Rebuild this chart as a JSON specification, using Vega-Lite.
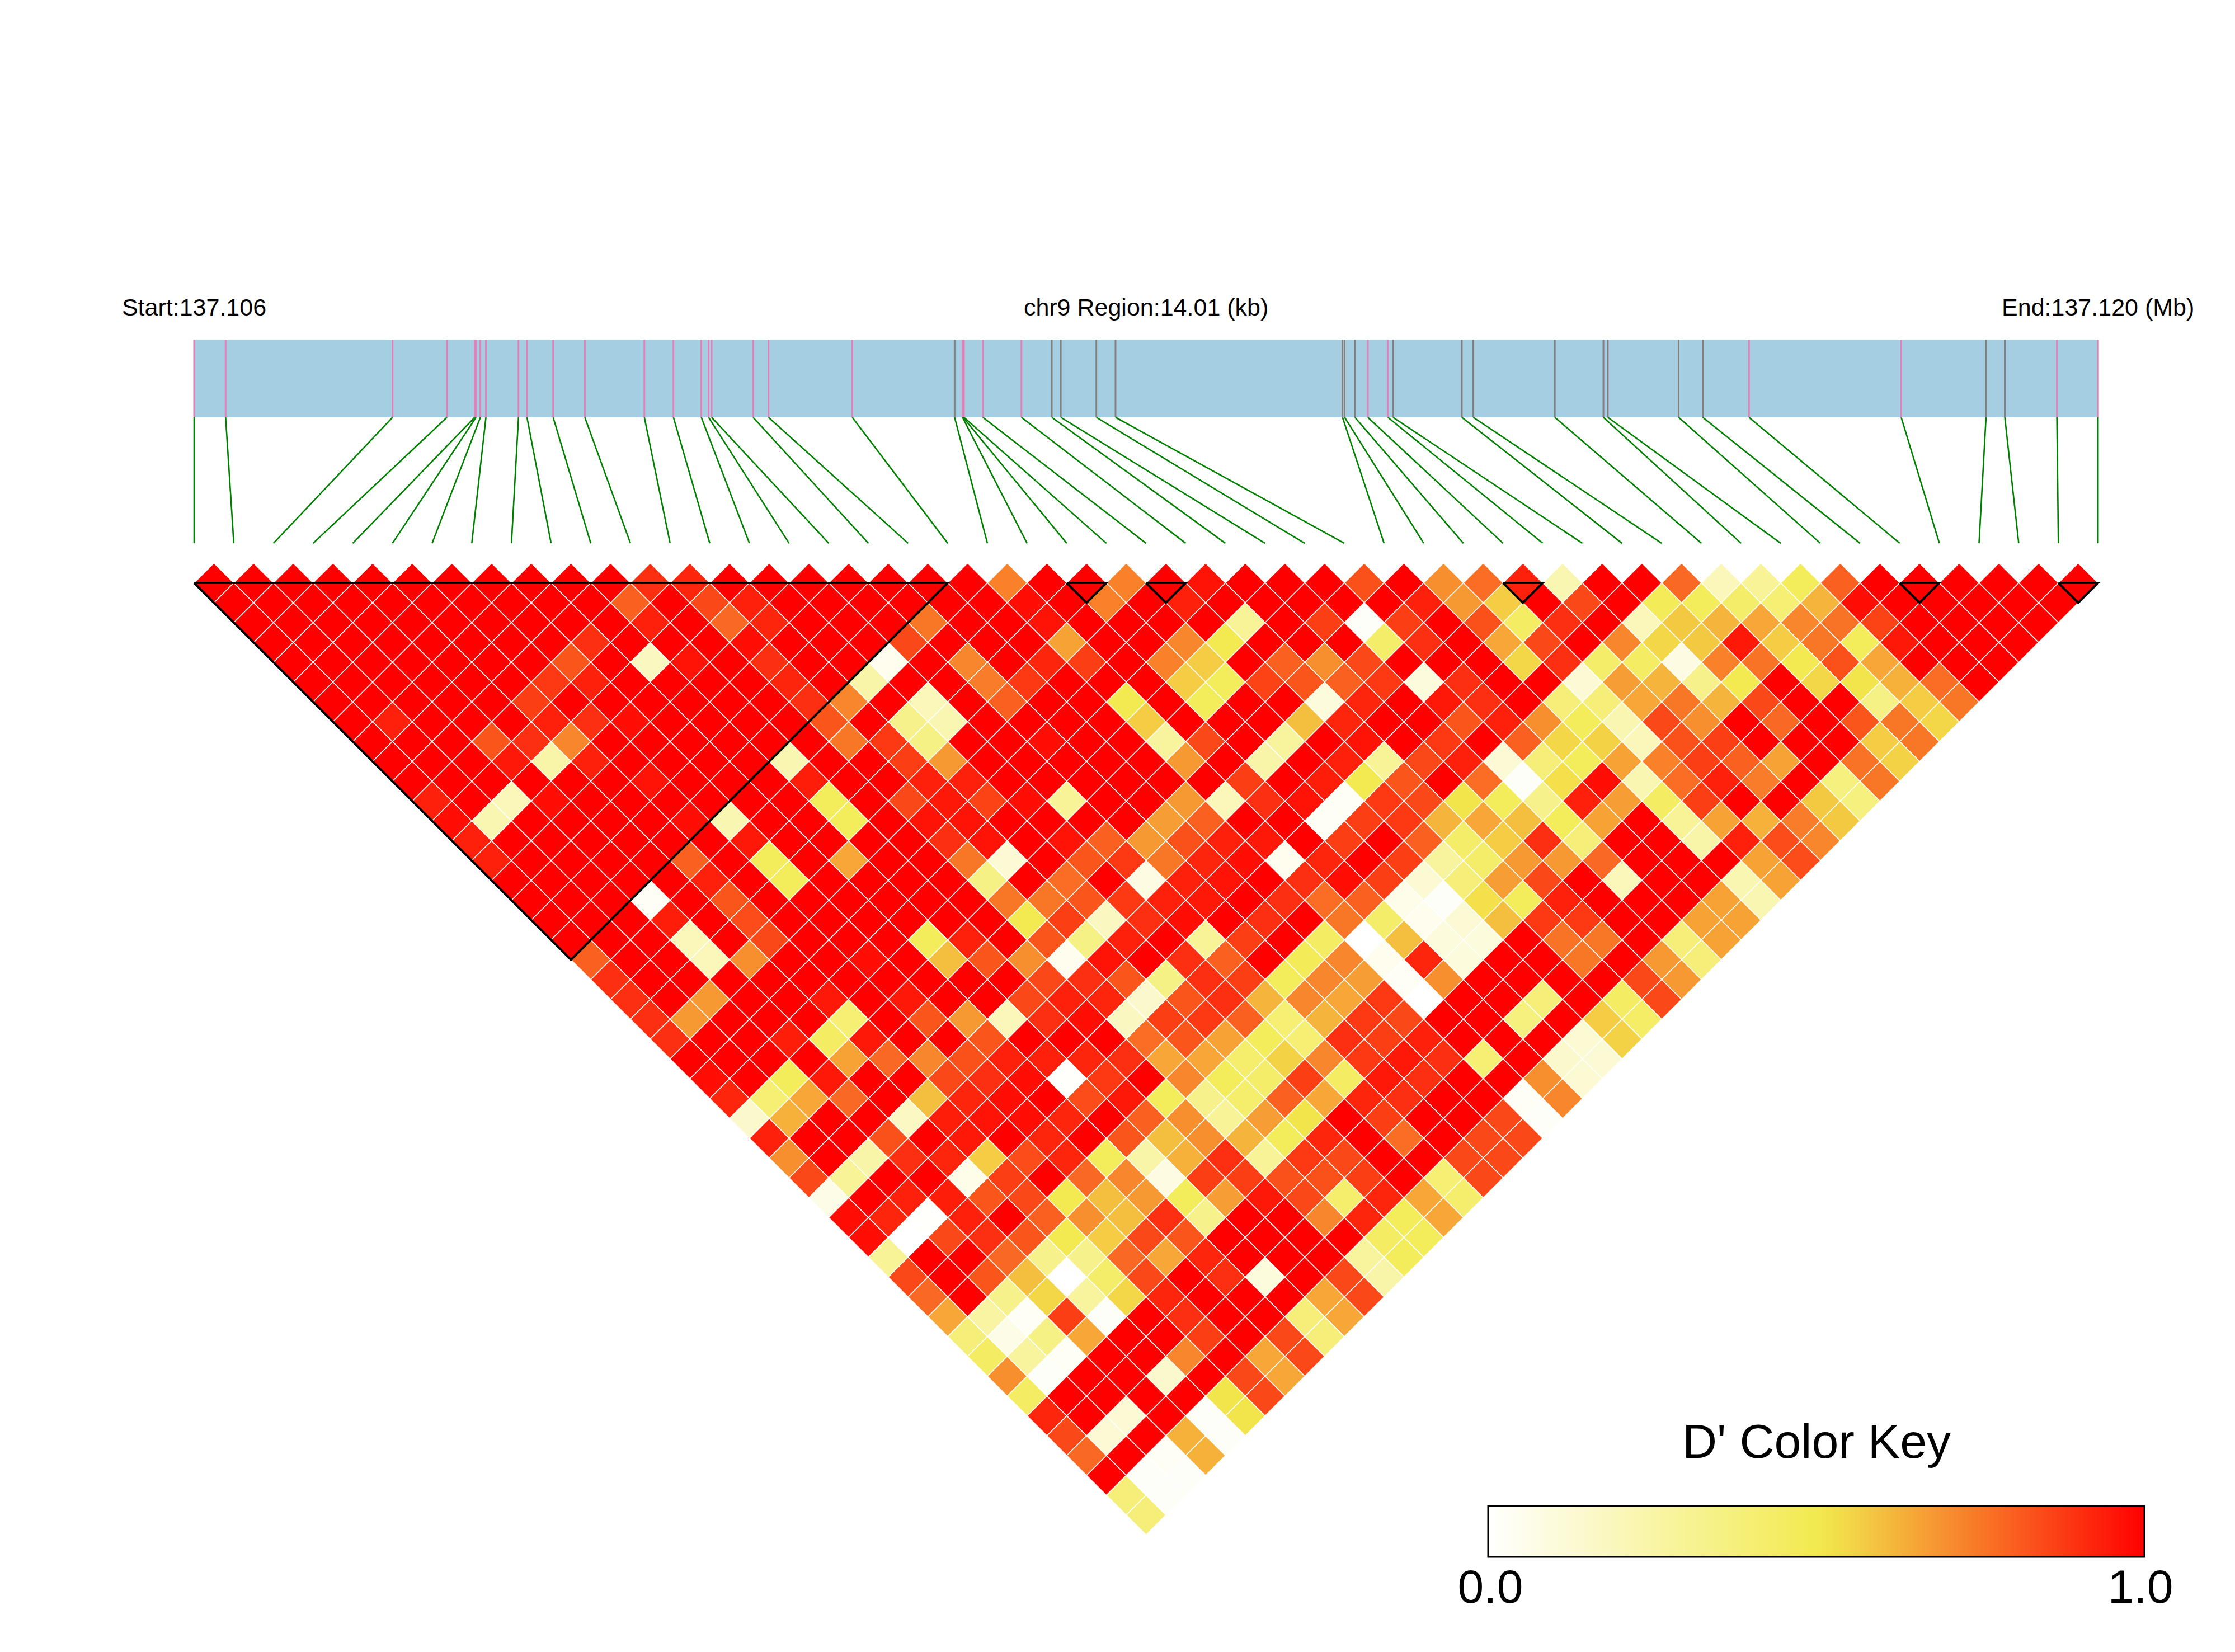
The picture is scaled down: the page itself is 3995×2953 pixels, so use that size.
{"$schema":"https://vega.github.io/schema/vega-lite/v6.json","width":3995,"height":2953,"autosize":{"type":"fit","contains":"padding"},"padding":0,"background":"white","config":{"view":{"stroke":null},"font":"Liberation Sans"},
"datasets":{"cells":[
{"m":0.5,"d":1,"v":1},{"m":1.5,"d":1,"v":1},{"m":2.5,"d":1,"v":1},{"m":3.5,"d":1,"v":1},{"m":4.5,"d":1,"v":1},{"m":5.5,"d":1,"v":1},{"m":6.5,"d":1,"v":1},{"m":7.5,"d":1,"v":1},{"m":8.5,"d":1,"v":1},{"m":9.5,"d":1,"v":1},{"m":10.5,"d":1,"v":1},{"m":11.5,"d":1,"v":0.9},{"m":12.5,"d":1,"v":0.92},{"m":13.5,"d":1,"v":1},{"m":14.5,"d":1,"v":1},{"m":15.5,"d":1,"v":1},{"m":16.5,"d":1,"v":1},{"m":17.5,"d":1,"v":1},{"m":18.5,"d":1,"v":1},{"m":19.5,"d":1,"v":1},{"m":20.5,"d":1,"v":0.73},{"m":21.5,"d":1,"v":1},{"m":22.5,"d":1,"v":1},{"m":23.5,"d":1,"v":0.73},{"m":24.5,"d":1,"v":1},{"m":25.5,"d":1,"v":0.96},{"m":26.5,"d":1,"v":1},{"m":27.5,"d":1,"v":1},{"m":28.5,"d":1,"v":1},{"m":29.5,"d":1,"v":0.83},{"m":30.5,"d":1,"v":1},{"m":31.5,"d":1,"v":0.7},{"m":32.5,"d":1,"v":0.77},{"m":33.5,"d":1,"v":0.93},{"m":34.5,"d":1,"v":0.22},{"m":35.5,"d":1,"v":1},{"m":36.5,"d":1,"v":1},{"m":37.5,"d":1,"v":0.78},{"m":38.5,"d":1,"v":0.2},{"m":39.5,"d":1,"v":0.3},{"m":40.5,"d":1,"v":0.47},{"m":41.5,"d":1,"v":0.8},{"m":42.5,"d":1,"v":1},{"m":43.5,"d":1,"v":1},{"m":44.5,"d":1,"v":1},{"m":45.5,"d":1,"v":1},{"m":46.5,"d":1,"v":1},{"m":47.5,"d":1,"v":1},
{"m":1,"d":2,"v":1},{"m":2,"d":2,"v":1},{"m":3,"d":2,"v":1},{"m":4,"d":2,"v":1},{"m":5,"d":2,"v":1},{"m":6,"d":2,"v":1},{"m":7,"d":2,"v":1},{"m":8,"d":2,"v":1},{"m":9,"d":2,"v":1},{"m":10,"d":2,"v":1},{"m":11,"d":2,"v":0.8},{"m":12,"d":2,"v":1},{"m":13,"d":2,"v":0.85},{"m":14,"d":2,"v":0.93},{"m":15,"d":2,"v":1},{"m":16,"d":2,"v":1},{"m":17,"d":2,"v":1},{"m":18,"d":2,"v":1},{"m":19,"d":2,"v":1},{"m":20,"d":2,"v":1},{"m":21,"d":2,"v":0.97},{"m":22,"d":2,"v":1},{"m":23,"d":2,"v":0.73},{"m":24,"d":2,"v":1},{"m":25,"d":2,"v":0.93},{"m":26,"d":2,"v":1},{"m":27,"d":2,"v":1},{"m":28,"d":2,"v":1},{"m":29,"d":2,"v":1},{"m":30,"d":2,"v":1},{"m":31,"d":2,"v":0.93},{"m":32,"d":2,"v":0.68},{"m":33,"d":2,"v":0.57},{"m":34,"d":2,"v":1},{"m":35,"d":2,"v":0.85},{"m":36,"d":2,"v":1},{"m":37,"d":2,"v":0.48},{"m":38,"d":2,"v":0.47},{"m":39,"d":2,"v":0.43},{"m":40,"d":2,"v":0.4},{"m":41,"d":2,"v":0.62},{"m":42,"d":2,"v":0.97},{"m":43,"d":2,"v":1},{"m":44,"d":2,"v":1},{"m":45,"d":2,"v":1},{"m":46,"d":2,"v":1},{"m":47,"d":2,"v":1},
{"m":1.5,"d":3,"v":1},{"m":2.5,"d":3,"v":1},{"m":3.5,"d":3,"v":1},{"m":4.5,"d":3,"v":1},{"m":5.5,"d":3,"v":1},{"m":6.5,"d":3,"v":1},{"m":7.5,"d":3,"v":1},{"m":8.5,"d":3,"v":1},{"m":9.5,"d":3,"v":1},{"m":10.5,"d":3,"v":1},{"m":11.5,"d":3,"v":0.93},{"m":12.5,"d":3,"v":1},{"m":13.5,"d":3,"v":0.78},{"m":14.5,"d":3,"v":0.92},{"m":15.5,"d":3,"v":1},{"m":16.5,"d":3,"v":1},{"m":17.5,"d":3,"v":1},{"m":18.5,"d":3,"v":0.75},{"m":19.5,"d":3,"v":1},{"m":20.5,"d":3,"v":1},{"m":21.5,"d":3,"v":0.96},{"m":22.5,"d":3,"v":1},{"m":23.5,"d":3,"v":1},{"m":24.5,"d":3,"v":1},{"m":25.5,"d":3,"v":1},{"m":26.5,"d":3,"v":0.3},{"m":27.5,"d":3,"v":1},{"m":28.5,"d":3,"v":0.87},{"m":29.5,"d":3,"v":0.02},{"m":30.5,"d":3,"v":0.87},{"m":31.5,"d":3,"v":1},{"m":32.5,"d":3,"v":0.83},{"m":33.5,"d":3,"v":0.45},{"m":34.5,"d":3,"v":0.9},{"m":35.5,"d":3,"v":1},{"m":36.5,"d":3,"v":0.2},{"m":37.5,"d":3,"v":0.58},{"m":38.5,"d":3,"v":0.62},{"m":39.5,"d":3,"v":0.65},{"m":40.5,"d":3,"v":0.72},{"m":41.5,"d":3,"v":0.76},{"m":42.5,"d":3,"v":0.86},{"m":43.5,"d":3,"v":1},{"m":44.5,"d":3,"v":1},{"m":45.5,"d":3,"v":1},{"m":46.5,"d":3,"v":1},
{"m":2,"d":4,"v":1},{"m":3,"d":4,"v":1},{"m":4,"d":4,"v":1},{"m":5,"d":4,"v":1},{"m":6,"d":4,"v":1},{"m":7,"d":4,"v":1},{"m":8,"d":4,"v":1},{"m":9,"d":4,"v":1},{"m":10,"d":4,"v":0.9},{"m":11,"d":4,"v":1},{"m":12,"d":4,"v":1},{"m":13,"d":4,"v":1},{"m":14,"d":4,"v":0.97},{"m":15,"d":4,"v":1},{"m":16,"d":4,"v":1},{"m":17,"d":4,"v":1},{"m":18,"d":4,"v":0.85},{"m":19,"d":4,"v":1},{"m":20,"d":4,"v":1},{"m":21,"d":4,"v":1},{"m":22,"d":4,"v":0.66},{"m":23,"d":4,"v":1},{"m":24,"d":4,"v":1},{"m":25,"d":4,"v":0.72},{"m":26,"d":4,"v":0.5},{"m":27,"d":4,"v":1},{"m":28,"d":4,"v":1},{"m":29,"d":4,"v":1},{"m":30,"d":4,"v":0.43},{"m":31,"d":4,"v":0.9},{"m":32,"d":4,"v":1},{"m":33,"d":4,"v":0.65},{"m":34,"d":4,"v":0.85},{"m":35,"d":4,"v":1},{"m":36,"d":4,"v":0.72},{"m":37,"d":4,"v":0.55},{"m":38,"d":4,"v":0.58},{"m":39,"d":4,"v":0.95},{"m":40,"d":4,"v":0.57},{"m":41,"d":4,"v":0.75},{"m":42,"d":4,"v":0.47},{"m":43,"d":4,"v":0.95},{"m":44,"d":4,"v":1},{"m":45,"d":4,"v":1},{"m":46,"d":4,"v":1},
{"m":2.5,"d":5,"v":1},{"m":3.5,"d":5,"v":1},{"m":4.5,"d":5,"v":1},{"m":5.5,"d":5,"v":1},{"m":6.5,"d":5,"v":1},{"m":7.5,"d":5,"v":1},{"m":8.5,"d":5,"v":1},{"m":9.5,"d":5,"v":0.82},{"m":10.5,"d":5,"v":1},{"m":11.5,"d":5,"v":0.18},{"m":12.5,"d":5,"v":0.96},{"m":13.5,"d":5,"v":1},{"m":14.5,"d":5,"v":0.9},{"m":15.5,"d":5,"v":1},{"m":16.5,"d":5,"v":1},{"m":17.5,"d":5,"v":0.05},{"m":18.5,"d":5,"v":1},{"m":19.5,"d":5,"v":0.72},{"m":20.5,"d":5,"v":1},{"m":21.5,"d":5,"v":0.92},{"m":22.5,"d":5,"v":0.87},{"m":23.5,"d":5,"v":1},{"m":24.5,"d":5,"v":0.73},{"m":25.5,"d":5,"v":0.57},{"m":26.5,"d":5,"v":1},{"m":27.5,"d":5,"v":0.8},{"m":28.5,"d":5,"v":0.7},{"m":29.5,"d":5,"v":0.85},{"m":30.5,"d":5,"v":1},{"m":31.5,"d":5,"v":1},{"m":32.5,"d":5,"v":1},{"m":33.5,"d":5,"v":0.55},{"m":34.5,"d":5,"v":0.9},{"m":35.5,"d":5,"v":0.43},{"m":36.5,"d":5,"v":0.45},{"m":37.5,"d":5,"v":0.08},{"m":38.5,"d":5,"v":0.73},{"m":39.5,"d":5,"v":0.76},{"m":40.5,"d":5,"v":0.5},{"m":41.5,"d":5,"v":0.83},{"m":42.5,"d":5,"v":0.65},{"m":43.5,"d":5,"v":1},{"m":44.5,"d":5,"v":1},{"m":45.5,"d":5,"v":1},
{"m":3,"d":6,"v":1},{"m":4,"d":6,"v":1},{"m":5,"d":6,"v":1},{"m":6,"d":6,"v":1},{"m":7,"d":6,"v":1},{"m":8,"d":6,"v":1},{"m":9,"d":6,"v":0.88},{"m":10,"d":6,"v":0.93},{"m":11,"d":6,"v":1},{"m":12,"d":6,"v":1},{"m":13,"d":6,"v":1},{"m":14,"d":6,"v":1},{"m":15,"d":6,"v":0.92},{"m":16,"d":6,"v":1},{"m":17,"d":6,"v":0.25},{"m":18,"d":6,"v":1},{"m":19,"d":6,"v":1},{"m":20,"d":6,"v":0.74},{"m":21,"d":6,"v":0.88},{"m":22,"d":6,"v":1},{"m":23,"d":6,"v":1},{"m":24,"d":6,"v":1},{"m":25,"d":6,"v":0.57},{"m":26,"d":6,"v":0.47},{"m":27,"d":6,"v":0.86},{"m":28,"d":6,"v":0.82},{"m":29,"d":6,"v":0.8},{"m":30,"d":6,"v":0.88},{"m":31,"d":6,"v":0.1},{"m":32,"d":6,"v":0.9},{"m":33,"d":6,"v":1},{"m":34,"d":6,"v":1},{"m":35,"d":6,"v":0.12},{"m":36,"d":6,"v":0.67},{"m":37,"d":6,"v":0.62},{"m":38,"d":6,"v":0.33},{"m":39,"d":6,"v":0.5},{"m":40,"d":6,"v":1},{"m":41,"d":6,"v":0.55},{"m":42,"d":6,"v":0.52},{"m":43,"d":6,"v":0.63},{"m":44,"d":6,"v":0.77},{"m":45,"d":6,"v":1},
{"m":3.5,"d":7,"v":1},{"m":4.5,"d":7,"v":1},{"m":5.5,"d":7,"v":1},{"m":6.5,"d":7,"v":1},{"m":7.5,"d":7,"v":1},{"m":8.5,"d":7,"v":0.87},{"m":9.5,"d":7,"v":1},{"m":10.5,"d":7,"v":1},{"m":11.5,"d":7,"v":1},{"m":12.5,"d":7,"v":1},{"m":13.5,"d":7,"v":1},{"m":14.5,"d":7,"v":1},{"m":15.5,"d":7,"v":0.9},{"m":16.5,"d":7,"v":0.72},{"m":17.5,"d":7,"v":1},{"m":18.5,"d":7,"v":0.2},{"m":19.5,"d":7,"v":1},{"m":20.5,"d":7,"v":0.8},{"m":21.5,"d":7,"v":1},{"m":22.5,"d":7,"v":1},{"m":23.5,"d":7,"v":0.5},{"m":24.5,"d":7,"v":1},{"m":25.5,"d":7,"v":0.47},{"m":26.5,"d":7,"v":1},{"m":27.5,"d":7,"v":1},{"m":28.5,"d":7,"v":0.1},{"m":29.5,"d":7,"v":0.92},{"m":30.5,"d":7,"v":1},{"m":31.5,"d":7,"v":0.95},{"m":32.5,"d":7,"v":0.9},{"m":33.5,"d":7,"v":1},{"m":34.5,"d":7,"v":0.38},{"m":35.5,"d":7,"v":0.38},{"m":36.5,"d":7,"v":0.65},{"m":37.5,"d":7,"v":0.75},{"m":38.5,"d":7,"v":0.62},{"m":39.5,"d":7,"v":0.85},{"m":40.5,"d":7,"v":1},{"m":41.5,"d":7,"v":1},{"m":42.5,"d":7,"v":0.35},{"m":43.5,"d":7,"v":0.57},{"m":44.5,"d":7,"v":0.75},
{"m":4,"d":8,"v":1},{"m":5,"d":8,"v":0.93},{"m":6,"d":8,"v":1},{"m":7,"d":8,"v":1},{"m":8,"d":8,"v":1},{"m":9,"d":8,"v":0.93},{"m":10,"d":8,"v":0.9},{"m":11,"d":8,"v":0.97},{"m":12,"d":8,"v":1},{"m":13,"d":8,"v":1},{"m":14,"d":8,"v":1},{"m":15,"d":8,"v":1},{"m":16,"d":8,"v":0.82},{"m":17,"d":8,"v":1},{"m":18,"d":8,"v":0.33},{"m":19,"d":8,"v":0.22},{"m":20,"d":8,"v":1},{"m":21,"d":8,"v":1},{"m":22,"d":8,"v":1},{"m":23,"d":8,"v":1},{"m":24,"d":8,"v":0.57},{"m":25,"d":8,"v":1},{"m":26,"d":8,"v":1},{"m":27,"d":8,"v":1},{"m":28,"d":8,"v":0.6},{"m":29,"d":8,"v":0.92},{"m":30,"d":8,"v":1},{"m":31,"d":8,"v":1},{"m":32,"d":8,"v":0.82},{"m":33,"d":8,"v":0.93},{"m":34,"d":8,"v":0.7},{"m":35,"d":8,"v":0.47},{"m":36,"d":8,"v":0.22},{"m":37,"d":8,"v":0.85},{"m":38,"d":8,"v":0.7},{"m":39,"d":8,"v":1},{"m":40,"d":8,"v":0.78},{"m":41,"d":8,"v":1},{"m":42,"d":8,"v":0.82},{"m":43,"d":8,"v":0.75},{"m":44,"d":8,"v":0.55},
{"m":4.5,"d":9,"v":1},{"m":5.5,"d":9,"v":1},{"m":6.5,"d":9,"v":1},{"m":7.5,"d":9,"v":0.82},{"m":8.5,"d":9,"v":0.9},{"m":9.5,"d":9,"v":0.72},{"m":10.5,"d":9,"v":1},{"m":11.5,"d":9,"v":1},{"m":12.5,"d":9,"v":1},{"m":13.5,"d":9,"v":1},{"m":14.5,"d":9,"v":1},{"m":15.5,"d":9,"v":1},{"m":16.5,"d":9,"v":0.75},{"m":17.5,"d":9,"v":0.88},{"m":18.5,"d":9,"v":0.35},{"m":19.5,"d":9,"v":1},{"m":20.5,"d":9,"v":1},{"m":21.5,"d":9,"v":0.97},{"m":22.5,"d":9,"v":1},{"m":23.5,"d":9,"v":1},{"m":24.5,"d":9,"v":0.28},{"m":25.5,"d":9,"v":0.85},{"m":26.5,"d":9,"v":1},{"m":27.5,"d":9,"v":0.28},{"m":28.5,"d":9,"v":1},{"m":29.5,"d":9,"v":0.96},{"m":30.5,"d":9,"v":1},{"m":31.5,"d":9,"v":0.88},{"m":32.5,"d":9,"v":1},{"m":33.5,"d":9,"v":0.8},{"m":34.5,"d":9,"v":0.55},{"m":35.5,"d":9,"v":0.56},{"m":36.5,"d":9,"v":0.2},{"m":37.5,"d":9,"v":0.83},{"m":38.5,"d":9,"v":0.87},{"m":39.5,"d":9,"v":1},{"m":40.5,"d":9,"v":1},{"m":41.5,"d":9,"v":1},{"m":42.5,"d":9,"v":0.57},{"m":43.5,"d":9,"v":0.75},
{"m":5,"d":10,"v":1},{"m":6,"d":10,"v":1},{"m":7,"d":10,"v":1},{"m":8,"d":10,"v":0.95},{"m":9,"d":10,"v":0.25},{"m":10,"d":10,"v":0.93},{"m":11,"d":10,"v":1},{"m":12,"d":10,"v":1},{"m":13,"d":10,"v":1},{"m":14,"d":10,"v":1},{"m":15,"d":10,"v":0.22},{"m":16,"d":10,"v":1},{"m":17,"d":10,"v":1},{"m":18,"d":10,"v":0.87},{"m":19,"d":10,"v":0.68},{"m":20,"d":10,"v":1},{"m":21,"d":10,"v":1},{"m":22,"d":10,"v":1},{"m":23,"d":10,"v":1},{"m":24,"d":10,"v":1},{"m":25,"d":10,"v":0.68},{"m":26,"d":10,"v":1},{"m":27,"d":10,"v":0.25},{"m":28,"d":10,"v":1},{"m":29,"d":10,"v":0.93},{"m":30,"d":10,"v":0.3},{"m":31,"d":10,"v":0.85},{"m":32,"d":10,"v":0.93},{"m":33,"d":10,"v":0.12},{"m":34,"d":10,"v":0.38},{"m":35,"d":10,"v":0.47},{"m":36,"d":10,"v":0.66},{"m":37,"d":10,"v":0.73},{"m":38,"d":10,"v":0.87},{"m":39,"d":10,"v":0.8},{"m":40,"d":10,"v":0.66},{"m":41,"d":10,"v":1},{"m":42,"d":10,"v":0.76},{"m":43,"d":10,"v":0.56},
{"m":5.5,"d":11,"v":1},{"m":6.5,"d":11,"v":1},{"m":7.5,"d":11,"v":1},{"m":8.5,"d":11,"v":1},{"m":9.5,"d":11,"v":1},{"m":10.5,"d":11,"v":1},{"m":11.5,"d":11,"v":0.96},{"m":12.5,"d":11,"v":1},{"m":13.5,"d":11,"v":1},{"m":14.5,"d":11,"v":1},{"m":15.5,"d":11,"v":0.94},{"m":16.5,"d":11,"v":1},{"m":17.5,"d":11,"v":1},{"m":18.5,"d":11,"v":0.93},{"m":19.5,"d":11,"v":0.93},{"m":20.5,"d":11,"v":1},{"m":21.5,"d":11,"v":1},{"m":22.5,"d":11,"v":1},{"m":23.5,"d":11,"v":1},{"m":24.5,"d":11,"v":1},{"m":25.5,"d":11,"v":1},{"m":26.5,"d":11,"v":0.87},{"m":27.5,"d":11,"v":1},{"m":28.5,"d":11,"v":0.94},{"m":29.5,"d":11,"v":0.5},{"m":30.5,"d":11,"v":0.82},{"m":31.5,"d":11,"v":1},{"m":32.5,"d":11,"v":0.77},{"m":33.5,"d":11,"v":0.02},{"m":34.5,"d":11,"v":0.53},{"m":35.5,"d":11,"v":0.97},{"m":36.5,"d":11,"v":0.22},{"m":37.5,"d":11,"v":0.77},{"m":38.5,"d":11,"v":0.93},{"m":39.5,"d":11,"v":0.74},{"m":40.5,"d":11,"v":1},{"m":41.5,"d":11,"v":0.37},{"m":42.5,"d":11,"v":0.75},
{"m":6,"d":12,"v":0.93},{"m":7,"d":12,"v":1},{"m":8,"d":12,"v":0.2},{"m":9,"d":12,"v":0.97},{"m":10,"d":12,"v":1},{"m":11,"d":12,"v":1},{"m":12,"d":12,"v":1},{"m":13,"d":12,"v":1},{"m":14,"d":12,"v":1},{"m":15,"d":12,"v":1},{"m":16,"d":12,"v":0.47},{"m":17,"d":12,"v":1},{"m":18,"d":12,"v":0.85},{"m":19,"d":12,"v":0.95},{"m":20,"d":12,"v":0.86},{"m":21,"d":12,"v":0.97},{"m":22,"d":12,"v":0.3},{"m":23,"d":12,"v":1},{"m":24,"d":12,"v":1},{"m":25,"d":12,"v":0.68},{"m":26,"d":12,"v":0.2},{"m":27,"d":12,"v":0.9},{"m":28,"d":12,"v":0.96},{"m":29,"d":12,"v":0.03},{"m":30,"d":12,"v":0.88},{"m":31,"d":12,"v":0.85},{"m":32,"d":12,"v":0.52},{"m":33,"d":12,"v":0.47},{"m":34,"d":12,"v":0.33},{"m":35,"d":12,"v":0.93},{"m":36,"d":12,"v":0.67},{"m":37,"d":12,"v":0.45},{"m":38,"d":12,"v":0.87},{"m":39,"d":12,"v":1},{"m":40,"d":12,"v":1},{"m":41,"d":12,"v":0.58},{"m":42,"d":12,"v":0.37},
{"m":6.5,"d":13,"v":0.97},{"m":7.5,"d":13,"v":0.22},{"m":8.5,"d":13,"v":1},{"m":9.5,"d":13,"v":1},{"m":10.5,"d":13,"v":1},{"m":11.5,"d":13,"v":1},{"m":12.5,"d":13,"v":0.97},{"m":13.5,"d":13,"v":0.22},{"m":14.5,"d":13,"v":1},{"m":15.5,"d":13,"v":1},{"m":16.5,"d":13,"v":0.47},{"m":17.5,"d":13,"v":1},{"m":18.5,"d":13,"v":0.96},{"m":19.5,"d":13,"v":0.96},{"m":20.5,"d":13,"v":1},{"m":21.5,"d":13,"v":1},{"m":22.5,"d":13,"v":1},{"m":23.5,"d":13,"v":1},{"m":24.5,"d":13,"v":0.67},{"m":25.5,"d":13,"v":0.8},{"m":26.5,"d":13,"v":1},{"m":27.5,"d":13,"v":1},{"m":28.5,"d":13,"v":0.03},{"m":29.5,"d":13,"v":0.87},{"m":30.5,"d":13,"v":0.88},{"m":31.5,"d":13,"v":0.62},{"m":32.5,"d":13,"v":0.65},{"m":33.5,"d":13,"v":0.6},{"m":34.5,"d":13,"v":0.47},{"m":35.5,"d":13,"v":0.66},{"m":36.5,"d":13,"v":1},{"m":37.5,"d":13,"v":0.3},{"m":38.5,"d":13,"v":0.66},{"m":39.5,"d":13,"v":0.63},{"m":40.5,"d":13,"v":0.74},{"m":41.5,"d":13,"v":0.58},
{"m":7,"d":14,"v":0.93},{"m":8,"d":14,"v":1},{"m":9,"d":14,"v":1},{"m":10,"d":14,"v":1},{"m":11,"d":14,"v":1},{"m":12,"d":14,"v":1},{"m":13,"d":14,"v":1},{"m":14,"d":14,"v":0.95},{"m":15,"d":14,"v":1},{"m":16,"d":14,"v":1},{"m":17,"d":14,"v":1},{"m":18,"d":14,"v":1},{"m":19,"d":14,"v":0.9},{"m":20,"d":14,"v":0.96},{"m":21,"d":14,"v":1},{"m":22,"d":14,"v":0.96},{"m":23,"d":14,"v":0.8},{"m":24,"d":14,"v":0.68},{"m":25,"d":14,"v":0.83},{"m":26,"d":14,"v":0.93},{"m":27,"d":14,"v":0.95},{"m":28,"d":14,"v":1},{"m":29,"d":14,"v":0.87},{"m":30,"d":14,"v":1},{"m":31,"d":14,"v":0.8},{"m":32,"d":14,"v":0.43},{"m":33,"d":14,"v":0.57},{"m":34,"d":14,"v":0.9},{"m":35,"d":14,"v":0.38},{"m":36,"d":14,"v":1},{"m":37,"d":14,"v":1},{"m":38,"d":14,"v":0.25},{"m":39,"d":14,"v":0.93},{"m":40,"d":14,"v":0.84},{"m":41,"d":14,"v":0.72},
{"m":7.5,"d":15,"v":0.93},{"m":8.5,"d":15,"v":1},{"m":9.5,"d":15,"v":1},{"m":10.5,"d":15,"v":1},{"m":11.5,"d":15,"v":1},{"m":12.5,"d":15,"v":0.8},{"m":13.5,"d":15,"v":1},{"m":14.5,"d":15,"v":0.47},{"m":15.5,"d":15,"v":1},{"m":16.5,"d":15,"v":0.65},{"m":17.5,"d":15,"v":1},{"m":18.5,"d":15,"v":1},{"m":19.5,"d":15,"v":0.75},{"m":20.5,"d":15,"v":0.12},{"m":21.5,"d":15,"v":1},{"m":22.5,"d":15,"v":0.82},{"m":23.5,"d":15,"v":0.88},{"m":24.5,"d":15,"v":0.75},{"m":25.5,"d":15,"v":0.92},{"m":26.5,"d":15,"v":0.97},{"m":27.5,"d":15,"v":0.05},{"m":28.5,"d":15,"v":0.92},{"m":29.5,"d":15,"v":1},{"m":30.5,"d":15,"v":0.87},{"m":31.5,"d":15,"v":0.28},{"m":32.5,"d":15,"v":0.43},{"m":33.5,"d":15,"v":0.68},{"m":34.5,"d":15,"v":0.68},{"m":35.5,"d":15,"v":0.78},{"m":36.5,"d":15,"v":1},{"m":37.5,"d":15,"v":1},{"m":38.5,"d":15,"v":1},{"m":39.5,"d":15,"v":0.66},{"m":40.5,"d":15,"v":0.84},
{"m":8,"d":16,"v":1},{"m":9,"d":16,"v":1},{"m":10,"d":16,"v":1},{"m":11,"d":16,"v":1},{"m":12,"d":16,"v":1},{"m":13,"d":16,"v":0.93},{"m":14,"d":16,"v":1},{"m":15,"d":16,"v":0.47},{"m":16,"d":16,"v":1},{"m":17,"d":16,"v":1},{"m":18,"d":16,"v":1},{"m":19,"d":16,"v":1},{"m":20,"d":16,"v":0.35},{"m":21,"d":16,"v":1},{"m":22,"d":16,"v":0.77},{"m":23,"d":16,"v":1},{"m":24,"d":16,"v":0.08},{"m":25,"d":16,"v":0.93},{"m":26,"d":16,"v":0.96},{"m":27,"d":16,"v":1},{"m":28,"d":16,"v":0.9},{"m":29,"d":16,"v":0.97},{"m":30,"d":16,"v":0.87},{"m":31,"d":16,"v":0.13},{"m":32,"d":16,"v":0.38},{"m":33,"d":16,"v":0.67},{"m":34,"d":16,"v":0.85},{"m":35,"d":16,"v":1},{"m":36,"d":16,"v":0.2},{"m":37,"d":16,"v":1},{"m":38,"d":16,"v":1},{"m":39,"d":16,"v":0.22},{"m":40,"d":16,"v":0.66},
{"m":8.5,"d":17,"v":1},{"m":9.5,"d":17,"v":1},{"m":10.5,"d":17,"v":1},{"m":11.5,"d":17,"v":0.03},{"m":12.5,"d":17,"v":1},{"m":13.5,"d":17,"v":0.82},{"m":14.5,"d":17,"v":1},{"m":15.5,"d":17,"v":1},{"m":16.5,"d":17,"v":1},{"m":17.5,"d":17,"v":1},{"m":18.5,"d":17,"v":1},{"m":19.5,"d":17,"v":1},{"m":20.5,"d":17,"v":0.75},{"m":21.5,"d":17,"v":0.75},{"m":22.5,"d":17,"v":0.82},{"m":23.5,"d":17,"v":0.88},{"m":24.5,"d":17,"v":0.93},{"m":25.5,"d":17,"v":0.95},{"m":26.5,"d":17,"v":1},{"m":27.5,"d":17,"v":0.9},{"m":28.5,"d":17,"v":0.77},{"m":29.5,"d":17,"v":0.8},{"m":30.5,"d":17,"v":0.06},{"m":31.5,"d":17,"v":0.02},{"m":32.5,"d":17,"v":0.53},{"m":33.5,"d":17,"v":0.47},{"m":34.5,"d":17,"v":0.93},{"m":35.5,"d":17,"v":1},{"m":36.5,"d":17,"v":1},{"m":37.5,"d":17,"v":1},{"m":38.5,"d":17,"v":0.66},{"m":39.5,"d":17,"v":0.22},
{"m":9,"d":18,"v":1},{"m":10,"d":18,"v":1},{"m":11,"d":18,"v":1},{"m":12,"d":18,"v":0.94},{"m":13,"d":18,"v":1},{"m":14,"d":18,"v":0.84},{"m":15,"d":18,"v":1},{"m":16,"d":18,"v":1},{"m":17,"d":18,"v":1},{"m":18,"d":18,"v":1},{"m":19,"d":18,"v":1},{"m":20,"d":18,"v":1},{"m":21,"d":18,"v":0.5},{"m":22,"d":18,"v":0.87},{"m":23,"d":18,"v":0.18},{"m":24,"d":18,"v":0.9},{"m":25,"d":18,"v":0.97},{"m":26,"d":18,"v":1},{"m":27,"d":18,"v":0.9},{"m":28,"d":18,"v":1},{"m":29,"d":18,"v":0.75},{"m":30,"d":18,"v":0.43},{"m":31,"d":18,"v":0.05},{"m":32,"d":18,"v":0.12},{"m":33,"d":18,"v":0.6},{"m":34,"d":18,"v":0.88},{"m":35,"d":18,"v":0.88},{"m":36,"d":18,"v":1},{"m":37,"d":18,"v":1},{"m":38,"d":18,"v":0.66},{"m":39,"d":18,"v":0.66},
{"m":9.5,"d":19,"v":1},{"m":10.5,"d":19,"v":1},{"m":11.5,"d":19,"v":1},{"m":12.5,"d":19,"v":0.2},{"m":13.5,"d":19,"v":1},{"m":14.5,"d":19,"v":0.85},{"m":15.5,"d":19,"v":1},{"m":16.5,"d":19,"v":1},{"m":17.5,"d":19,"v":1},{"m":18.5,"d":19,"v":0.47},{"m":19.5,"d":19,"v":0.93},{"m":20.5,"d":19,"v":1},{"m":21.5,"d":19,"v":0.82},{"m":22.5,"d":19,"v":0.35},{"m":23.5,"d":19,"v":0.93},{"m":24.5,"d":19,"v":1},{"m":25.5,"d":19,"v":0.3},{"m":26.5,"d":19,"v":0.87},{"m":27.5,"d":19,"v":1},{"m":28.5,"d":19,"v":0.45},{"m":29.5,"d":19,"v":0},{"m":30.5,"d":19,"v":0.6},{"m":31.5,"d":19,"v":0.1},{"m":32.5,"d":19,"v":0.1},{"m":33.5,"d":19,"v":1},{"m":34.5,"d":19,"v":0.76},{"m":35.5,"d":19,"v":0.75},{"m":36.5,"d":19,"v":1},{"m":37.5,"d":19,"v":0.38},{"m":38.5,"d":19,"v":0.66},
{"m":10,"d":20,"v":0.8},{"m":11,"d":20,"v":1},{"m":12,"d":20,"v":1},{"m":13,"d":20,"v":0.2},{"m":14,"d":20,"v":0.7},{"m":15,"d":20,"v":1},{"m":16,"d":20,"v":1},{"m":17,"d":20,"v":0.97},{"m":18,"d":20,"v":1},{"m":19,"d":20,"v":0.6},{"m":20,"d":20,"v":0.82},{"m":21,"d":20,"v":0.7},{"m":22,"d":20,"v":0.05},{"m":23,"d":20,"v":0.96},{"m":24,"d":20,"v":1},{"m":25,"d":20,"v":0.9},{"m":26,"d":20,"v":0.8},{"m":27,"d":20,"v":1},{"m":28,"d":20,"v":0.48},{"m":29,"d":20,"v":0.72},{"m":30,"d":20,"v":0.05},{"m":31,"d":20,"v":0.92},{"m":32,"d":20,"v":0.1},{"m":33,"d":20,"v":1},{"m":34,"d":20,"v":1},{"m":35,"d":20,"v":0.75},{"m":36,"d":20,"v":1},{"m":37,"d":20,"v":0.68},{"m":38,"d":20,"v":0.38},
{"m":10.5,"d":21,"v":0.9},{"m":11.5,"d":21,"v":1},{"m":12.5,"d":21,"v":1},{"m":13.5,"d":21,"v":1},{"m":14.5,"d":21,"v":1},{"m":15.5,"d":21,"v":1},{"m":16.5,"d":21,"v":1},{"m":17.5,"d":21,"v":1},{"m":18.5,"d":21,"v":1},{"m":19.5,"d":21,"v":1},{"m":20.5,"d":21,"v":1},{"m":21.5,"d":21,"v":0.85},{"m":22.5,"d":21,"v":0.9},{"m":23.5,"d":21,"v":0.82},{"m":24.5,"d":21,"v":0.35},{"m":25.5,"d":21,"v":0.9},{"m":26.5,"d":21,"v":0.87},{"m":27.5,"d":21,"v":0.47},{"m":28.5,"d":21,"v":0.72},{"m":29.5,"d":21,"v":0.67},{"m":30.5,"d":21,"v":0.03},{"m":31.5,"d":21,"v":0.7},{"m":32.5,"d":21,"v":1},{"m":33.5,"d":21,"v":1},{"m":34.5,"d":21,"v":1},{"m":35.5,"d":21,"v":1},{"m":36.5,"d":21,"v":0.85},{"m":37.5,"d":21,"v":0.68},
{"m":11,"d":22,"v":0.9},{"m":12,"d":22,"v":1},{"m":13,"d":22,"v":0.68},{"m":14,"d":22,"v":1},{"m":15,"d":22,"v":1},{"m":16,"d":22,"v":0.95},{"m":17,"d":22,"v":1},{"m":18,"d":22,"v":0.95},{"m":19,"d":22,"v":1},{"m":20,"d":22,"v":1},{"m":21,"d":22,"v":0.85},{"m":22,"d":22,"v":0.93},{"m":23,"d":22,"v":0.92},{"m":24,"d":22,"v":0.15},{"m":25,"d":22,"v":0.82},{"m":26,"d":22,"v":0.9},{"m":27,"d":22,"v":0.62},{"m":28,"d":22,"v":0.72},{"m":29,"d":22,"v":0.65},{"m":30,"d":22,"v":0.88},{"m":31,"d":22,"v":0},{"m":32,"d":22,"v":1},{"m":33,"d":22,"v":1},{"m":34,"d":22,"v":0.38},{"m":35,"d":22,"v":1},{"m":36,"d":22,"v":0.45},{"m":37,"d":22,"v":0.85},
{"m":11.5,"d":23,"v":0.9},{"m":12.5,"d":23,"v":0.68},{"m":13.5,"d":23,"v":1},{"m":14.5,"d":23,"v":1},{"m":15.5,"d":23,"v":1},{"m":16.5,"d":23,"v":0.4},{"m":17.5,"d":23,"v":1},{"m":18.5,"d":23,"v":0.82},{"m":19.5,"d":23,"v":0.68},{"m":20.5,"d":23,"v":0.2},{"m":21.5,"d":23,"v":0.9},{"m":22.5,"d":23,"v":0.97},{"m":23.5,"d":23,"v":0.18},{"m":24.5,"d":23,"v":0.87},{"m":25.5,"d":23,"v":0.88},{"m":26.5,"d":23,"v":0.8},{"m":27.5,"d":23,"v":0.4},{"m":28.5,"d":23,"v":0.62},{"m":29.5,"d":23,"v":0.88},{"m":30.5,"d":23,"v":0.85},{"m":31.5,"d":23,"v":1},{"m":32.5,"d":23,"v":1},{"m":33.5,"d":23,"v":0.37},{"m":34.5,"d":23,"v":1},{"m":35.5,"d":23,"v":0.57},{"m":36.5,"d":23,"v":0.44},
{"m":12,"d":24,"v":0.9},{"m":13,"d":24,"v":1},{"m":14,"d":24,"v":1},{"m":15,"d":24,"v":0.94},{"m":16,"d":24,"v":0.45},{"m":17,"d":24,"v":0.95},{"m":18,"d":24,"v":1},{"m":19,"d":24,"v":1},{"m":20,"d":24,"v":0.82},{"m":21,"d":24,"v":1},{"m":22,"d":24,"v":1},{"m":23,"d":24,"v":1},{"m":24,"d":24,"v":0.77},{"m":25,"d":24,"v":0.82},{"m":26,"d":24,"v":0.66},{"m":27,"d":24,"v":0.47},{"m":28,"d":24,"v":0.4},{"m":29,"d":24,"v":0.9},{"m":30,"d":24,"v":0.87},{"m":31,"d":24,"v":0.93},{"m":32,"d":24,"v":1},{"m":33,"d":24,"v":1},{"m":34,"d":24,"v":1},{"m":35,"d":24,"v":0.13},{"m":36,"d":24,"v":0.56},
{"m":12.5,"d":25,"v":1},{"m":13.5,"d":25,"v":1},{"m":14.5,"d":25,"v":1},{"m":15.5,"d":25,"v":1},{"m":16.5,"d":25,"v":0.66},{"m":17.5,"d":25,"v":0.78},{"m":18.5,"d":25,"v":0.72},{"m":19.5,"d":25,"v":0.83},{"m":20.5,"d":25,"v":0.93},{"m":21.5,"d":25,"v":0.93},{"m":22.5,"d":25,"v":0.92},{"m":23.5,"d":25,"v":0.9},{"m":24.5,"d":25,"v":0.65},{"m":25.5,"d":25,"v":0.65},{"m":26.5,"d":25,"v":0.42},{"m":27.5,"d":25,"v":0.56},{"m":28.5,"d":25,"v":0.72},{"m":29.5,"d":25,"v":0.88},{"m":30.5,"d":25,"v":0.95},{"m":31.5,"d":25,"v":0.9},{"m":32.5,"d":25,"v":0.4},{"m":33.5,"d":25,"v":1},{"m":34.5,"d":25,"v":0.15},{"m":35.5,"d":25,"v":0.12},
{"m":13,"d":26,"v":0.97},{"m":14,"d":26,"v":1},{"m":15,"d":26,"v":0.47},{"m":16,"d":26,"v":0.95},{"m":17,"d":26,"v":1},{"m":18,"d":26,"v":1},{"m":19,"d":26,"v":0.85},{"m":20,"d":26,"v":0.9},{"m":21,"d":26,"v":0.97},{"m":22,"d":26,"v":0.01},{"m":23,"d":26,"v":0.88},{"m":24,"d":26,"v":1},{"m":25,"d":26,"v":0.72},{"m":26,"d":26,"v":0.47},{"m":27,"d":26,"v":0.43},{"m":28,"d":26,"v":0.87},{"m":29,"d":26,"v":0.45},{"m":30,"d":26,"v":0.95},{"m":31,"d":26,"v":0.9},{"m":32,"d":26,"v":1},{"m":33,"d":26,"v":1},{"m":34,"d":26,"v":0.7},{"m":35,"d":26,"v":0.13},
{"m":13.5,"d":27,"v":0.92},{"m":14.5,"d":27,"v":0.4},{"m":15.5,"d":27,"v":0.65},{"m":16.5,"d":27,"v":0.78},{"m":17.5,"d":27,"v":1},{"m":18.5,"d":27,"v":0.6},{"m":19.5,"d":27,"v":0.92},{"m":20.5,"d":27,"v":0.97},{"m":21.5,"d":27,"v":1},{"m":22.5,"d":27,"v":0.84},{"m":23.5,"d":27,"v":0.95},{"m":24.5,"d":27,"v":0.47},{"m":25.5,"d":27,"v":0.33},{"m":26.5,"d":27,"v":0.42},{"m":27.5,"d":27,"v":0.8},{"m":28.5,"d":27,"v":0.65},{"m":29.5,"d":27,"v":0.92},{"m":30.5,"d":27,"v":0.9},{"m":31.5,"d":27,"v":1},{"m":32.5,"d":27,"v":1},{"m":33.5,"d":27,"v":0.03},{"m":34.5,"d":27,"v":0.72},
{"m":14,"d":28,"v":0.15},{"m":15,"d":28,"v":0.63},{"m":16,"d":28,"v":1},{"m":17,"d":28,"v":1},{"m":18,"d":28,"v":0.17},{"m":19,"d":28,"v":0.94},{"m":20,"d":28,"v":0.96},{"m":21,"d":28,"v":0.97},{"m":22,"d":28,"v":0.92},{"m":23,"d":28,"v":1},{"m":24,"d":28,"v":0.8},{"m":25,"d":28,"v":0.7},{"m":26,"d":28,"v":0.3},{"m":27,"d":28,"v":0.67},{"m":28,"d":28,"v":0.52},{"m":29,"d":28,"v":1},{"m":30,"d":28,"v":0.87},{"m":31,"d":28,"v":1},{"m":32,"d":28,"v":1},{"m":33,"d":28,"v":0.85},{"m":34,"d":28,"v":0.02},
{"m":14.5,"d":29,"v":0.93},{"m":15.5,"d":29,"v":1},{"m":16.5,"d":29,"v":1},{"m":17.5,"d":29,"v":0.83},{"m":18.5,"d":29,"v":1},{"m":19.5,"d":29,"v":0.95},{"m":20.5,"d":29,"v":1},{"m":21.5,"d":29,"v":0.92},{"m":22.5,"d":29,"v":1},{"m":23.5,"d":29,"v":0.82},{"m":24.5,"d":29,"v":0.6},{"m":25.5,"d":29,"v":0.7},{"m":26.5,"d":29,"v":0.62},{"m":27.5,"d":29,"v":0.47},{"m":28.5,"d":29,"v":0.92},{"m":29.5,"d":29,"v":1},{"m":30.5,"d":29,"v":0.77},{"m":31.5,"d":29,"v":1},{"m":32.5,"d":29,"v":0.85},{"m":33.5,"d":29,"v":0.85},
{"m":15,"d":30,"v":0.7},{"m":16,"d":30,"v":1},{"m":17,"d":30,"v":0.25},{"m":18,"d":30,"v":0.9},{"m":19,"d":30,"v":0.92},{"m":20,"d":30,"v":0.57},{"m":21,"d":30,"v":0.84},{"m":22,"d":30,"v":0.92},{"m":23,"d":30,"v":0.47},{"m":24,"d":30,"v":0.25},{"m":25,"d":30,"v":0.63},{"m":26,"d":30,"v":0.9},{"m":27,"d":30,"v":0.3},{"m":28,"d":30,"v":0.88},{"m":29,"d":30,"v":0.85},{"m":30,"d":30,"v":1},{"m":31,"d":30,"v":1},{"m":32,"d":30,"v":0.85},{"m":33,"d":30,"v":0.85},
{"m":15.5,"d":31,"v":0.85},{"m":16.5,"d":31,"v":0.3},{"m":17.5,"d":31,"v":1},{"m":18.5,"d":31,"v":1},{"m":19.5,"d":31,"v":0.06},{"m":20.5,"d":31,"v":0.87},{"m":21.5,"d":31,"v":1},{"m":22.5,"d":31,"v":0.78},{"m":23.5,"d":31,"v":0.72},{"m":24.5,"d":31,"v":0.08},{"m":25.5,"d":31,"v":0.87},{"m":26.5,"d":31,"v":0.87},{"m":27.5,"d":31,"v":0.83},{"m":28.5,"d":31,"v":0.83},{"m":29.5,"d":31,"v":0.87},{"m":30.5,"d":31,"v":1},{"m":31.5,"d":31,"v":0.4},{"m":32.5,"d":31,"v":0.85},
{"m":16,"d":32,"v":0.07},{"m":17,"d":32,"v":1},{"m":18,"d":32,"v":0.93},{"m":19,"d":32,"v":0.94},{"m":20,"d":32,"v":0.82},{"m":21,"d":32,"v":0.85},{"m":22,"d":32,"v":0.5},{"m":23,"d":32,"v":0.6},{"m":24,"d":32,"v":0.68},{"m":25,"d":32,"v":0.47},{"m":26,"d":32,"v":0.67},{"m":27,"d":32,"v":0.95},{"m":28,"d":32,"v":0.85},{"m":29,"d":32,"v":0.42},{"m":30,"d":32,"v":0.92},{"m":31,"d":32,"v":0.65},{"m":32,"d":32,"v":0.42},
{"m":16.5,"d":33,"v":0.97},{"m":17.5,"d":33,"v":0.92},{"m":18.5,"d":33,"v":0.01},{"m":19.5,"d":33,"v":0.93},{"m":20.5,"d":33,"v":1},{"m":21.5,"d":33,"v":0.8},{"m":22.5,"d":33,"v":0.7},{"m":23.5,"d":33,"v":0.6},{"m":24.5,"d":33,"v":0.9},{"m":25.5,"d":33,"v":0.33},{"m":26.5,"d":33,"v":1},{"m":27.5,"d":33,"v":1},{"m":28.5,"d":33,"v":0.72},{"m":29.5,"d":33,"v":0.92},{"m":30.5,"d":33,"v":0.47},{"m":31.5,"d":33,"v":0.65},
{"m":17,"d":34,"v":0.97},{"m":18,"d":34,"v":0},{"m":19,"d":34,"v":0.85},{"m":20,"d":34,"v":0.9},{"m":21,"d":34,"v":0.82},{"m":22,"d":34,"v":0.5},{"m":23,"d":34,"v":0.57},{"m":24,"d":34,"v":0.85},{"m":25,"d":34,"v":0.82},{"m":26,"d":34,"v":1},{"m":27,"d":34,"v":1},{"m":28,"d":34,"v":1},{"m":29,"d":34,"v":1},{"m":30,"d":34,"v":0.45},{"m":31,"d":34,"v":0.47},
{"m":17.5,"d":35,"v":0.3},{"m":18.5,"d":35,"v":1},{"m":19.5,"d":35,"v":1},{"m":20.5,"d":35,"v":0.78},{"m":21.5,"d":35,"v":0.33},{"m":22.5,"d":35,"v":0.33},{"m":23.5,"d":35,"v":0.78},{"m":24.5,"d":35,"v":0.65},{"m":25.5,"d":35,"v":0.92},{"m":26.5,"d":35,"v":1},{"m":27.5,"d":35,"v":1},{"m":28.5,"d":35,"v":1},{"m":29.5,"d":35,"v":0.28},{"m":30.5,"d":35,"v":0.47},
{"m":18,"d":36,"v":0.85},{"m":19,"d":36,"v":1},{"m":20,"d":36,"v":0.82},{"m":21,"d":36,"v":0.6},{"m":22,"d":36,"v":0},{"m":23,"d":36,"v":0.43},{"m":24,"d":36,"v":0.85},{"m":25,"d":36,"v":1},{"m":26,"d":36,"v":0.9},{"m":27,"d":36,"v":0.1},{"m":28,"d":36,"v":1},{"m":29,"d":36,"v":0.85},{"m":30,"d":36,"v":0.25},
{"m":18.5,"d":37,"v":0.78},{"m":19.5,"d":37,"v":1},{"m":20.5,"d":37,"v":0.33},{"m":21.5,"d":37,"v":0.55},{"m":22.5,"d":37,"v":0.28},{"m":23.5,"d":37,"v":0.55},{"m":24.5,"d":37,"v":0.92},{"m":25.5,"d":37,"v":1},{"m":26.5,"d":37,"v":1},{"m":27.5,"d":37,"v":1},{"m":28.5,"d":37,"v":0.65},{"m":29.5,"d":37,"v":0.85},
{"m":19,"d":38,"v":0.65},{"m":20,"d":38,"v":0.27},{"m":21,"d":38,"v":0.03},{"m":22,"d":38,"v":0.87},{"m":23,"d":38,"v":0.02},{"m":24,"d":38,"v":1},{"m":25,"d":38,"v":0.9},{"m":26,"d":38,"v":1},{"m":27,"d":38,"v":1},{"m":28,"d":38,"v":0.38},{"m":29,"d":38,"v":0.65},
{"m":19.5,"d":39,"v":0.38},{"m":20.5,"d":39,"v":0.07},{"m":21.5,"d":39,"v":0.35},{"m":22.5,"d":39,"v":0.65},{"m":23.5,"d":39,"v":1},{"m":24.5,"d":39,"v":1},{"m":25.5,"d":39,"v":0.87},{"m":26.5,"d":39,"v":1},{"m":27.5,"d":39,"v":0.85},{"m":28.5,"d":39,"v":0.38},
{"m":20,"d":40,"v":0.45},{"m":21,"d":40,"v":0.28},{"m":22,"d":40,"v":0.03},{"m":23,"d":40,"v":1},{"m":24,"d":40,"v":1},{"m":25,"d":40,"v":0.72},{"m":26,"d":40,"v":1},{"m":27,"d":40,"v":0.65},{"m":28,"d":40,"v":0.85},
{"m":20.5,"d":41,"v":0.7},{"m":21.5,"d":41,"v":0.02},{"m":22.5,"d":41,"v":1},{"m":23.5,"d":41,"v":1},{"m":24.5,"d":41,"v":0.15},{"m":25.5,"d":41,"v":1},{"m":26.5,"d":41,"v":0.85},{"m":27.5,"d":41,"v":0.65},
{"m":21,"d":42,"v":0.45},{"m":22,"d":42,"v":1},{"m":23,"d":42,"v":1},{"m":24,"d":42,"v":1},{"m":25,"d":42,"v":1},{"m":26,"d":42,"v":0.52},{"m":27,"d":42,"v":0.85},
{"m":21.5,"d":43,"v":0.92},{"m":22.5,"d":43,"v":1},{"m":23.5,"d":43,"v":0.12},{"m":24.5,"d":43,"v":1},{"m":25.5,"d":43,"v":0.02},{"m":26.5,"d":43,"v":0.52},
{"m":22,"d":44,"v":0.85},{"m":23,"d":44,"v":0.12},{"m":24,"d":44,"v":1},{"m":25,"d":44,"v":0.63},{"m":26,"d":44,"v":0.02},
{"m":22.5,"d":45,"v":0.78},{"m":23.5,"d":45,"v":1},{"m":24.5,"d":45,"v":0.03},{"m":25.5,"d":45,"v":0.63},
{"m":23,"d":46,"v":1},{"m":24,"d":46,"v":0.02},{"m":25,"d":46,"v":0.02},
{"m":23.5,"d":47,"v":0.38},{"m":24.5,"d":47,"v":0.02},
{"m":24,"d":48,"v":0.38}
],
"snps":[
{"i":0,"p":0,"c":"a"},{"i":1,"p":0.794,"c":"a"},{"i":2,"p":5.004,"c":"a"},{"i":3,"p":6.375,"c":"a"},{"i":4,"p":7.076,"c":"a"},{"i":5,"p":7.108,"c":"a"},{"i":6,"p":7.217,"c":"a"},{"i":7,"p":7.357,"c":"a"},{"i":8,"p":8.178,"c":"a"},{"i":9,"p":8.392,"c":"a"},{"i":10,"p":9.052,"c":"a"},{"i":11,"p":9.85,"c":"a"},{"i":12,"p":11.351,"c":"a"},{"i":13,"p":12.084,"c":"a"},{"i":14,"p":12.787,"c":"a"},{"i":15,"p":12.97,"c":"a"},{"i":16,"p":13.046,"c":"a"},{"i":17,"p":14.093,"c":"a"},{"i":18,"p":14.481,"c":"a"},{"i":19,"p":16.593,"c":"a"},{"i":20,"p":19.173,"c":"b"},{"i":21,"p":19.372,"c":"a"},{"i":22,"p":19.386,"c":"a"},{"i":23,"p":19.407,"c":"a"},{"i":24,"p":19.885,"c":"a"},{"i":25,"p":20.857,"c":"a"},{"i":26,"p":21.623,"c":"b"},{"i":27,"p":21.85,"c":"b"},{"i":28,"p":22.746,"c":"b"},{"i":29,"p":23.23,"c":"b"},{"i":30,"p":28.952,"c":"b"},{"i":31,"p":29.006,"c":"b"},{"i":32,"p":29.265,"c":"b"},{"i":33,"p":29.59,"c":"a"},{"i":34,"p":30.096,"c":"a"},{"i":35,"p":30.226,"c":"b"},{"i":36,"p":31.96,"c":"b"},{"i":37,"p":32.25,"c":"b"},{"i":38,"p":34.304,"c":"b"},{"i":39,"p":35.53,"c":"b"},{"i":40,"p":35.64,"c":"b"},{"i":41,"p":37.426,"c":"b"},{"i":42,"p":38.034,"c":"b"},{"i":43,"p":39.2,"c":"a"},{"i":44,"p":43.038,"c":"a"},{"i":45,"p":45.176,"c":"b"},{"i":46,"p":45.65,"c":"b"},{"i":47,"p":46.963,"c":"a"},{"i":48,"p":48,"c":"a"}
],
"blocks":[
{"b":"A","o":1,"x":0,"y":1},{"b":"A","o":2,"x":19,"y":1},{"b":"A","o":3,"x":9.5,"y":20},{"b":"A","o":4,"x":0,"y":1},
{"b":"B","o":1,"x":22,"y":1},{"b":"B","o":2,"x":23,"y":1},{"b":"B","o":3,"x":22.5,"y":2},{"b":"B","o":4,"x":22,"y":1},
{"b":"C","o":1,"x":24,"y":1},{"b":"C","o":2,"x":25,"y":1},{"b":"C","o":3,"x":24.5,"y":2},{"b":"C","o":4,"x":24,"y":1},
{"b":"D","o":1,"x":33,"y":1},{"b":"D","o":2,"x":34,"y":1},{"b":"D","o":3,"x":33.5,"y":2},{"b":"D","o":4,"x":33,"y":1},
{"b":"E","o":1,"x":43,"y":1},{"b":"E","o":2,"x":44,"y":1},{"b":"E","o":3,"x":43.5,"y":2},{"b":"E","o":4,"x":43,"y":1},
{"b":"F","o":1,"x":47,"y":1},{"b":"F","o":2,"x":48,"y":1},{"b":"F","o":3,"x":47.5,"y":2},{"b":"F","o":4,"x":47,"y":1}
]},
"layer":[
{"data":{"values":[{"s":0,"e":48}]},"mark":{"type":"rect","color":"#A6CEE3"},"encoding":{
"x":{"field":"s","type":"quantitative","scale":{"domain":[-4.894,51.453],"nice":false,"zero":false},"axis":null},"x2":{"field":"e"},
"y":{"datum":-11.27,"type":"quantitative","scale":{"domain":[-28.394,54.907],"reverse":true,"nice":false,"zero":false},"axis":null},"y2":{"datum":-7.35}}},
{"data":{"name":"snps"},"mark":{"type":"rule","strokeWidth":3},"encoding":{
"x":{"field":"p","type":"quantitative"},
"y":{"datum":-11.27,"type":"quantitative"},"y2":{"datum":-7.35},
"stroke":{"field":"c","type":"nominal","scale":{"domain":["a","b"],"range":["#DE82B8","#808080"]},"legend":null}}},
{"data":{"name":"snps"},"mark":{"type":"rule","strokeWidth":2.6,"color":"#008000"},"encoding":{
"x":{"field":"p","type":"quantitative"},"x2":{"field":"i"},
"y":{"datum":-7.35,"type":"quantitative"},"y2":{"datum":-1}}},
{"data":{"values":[{"x":0,"t":"Start:137.106"},{"x":24,"t":"chr9 Region:14.01 (kb)"},{"x":48,"t":"End:137.120 (Mb)"}]},"mark":{"type":"text","font":"Liberation Sans","fontSize":43,"color":"black","align":"center","baseline":"alphabetic"},"encoding":{
"x":{"field":"x","type":"quantitative"},"y":{"datum":-12.48,"type":"quantitative"},"text":{"field":"t"}}},
{"data":{"values":[{"x":32.68,"t":"0.0"},{"x":49.07,"t":"1.0"}]},"mark":{"type":"text","font":"Liberation Sans","fontSize":84,"color":"black","align":"center","baseline":"alphabetic"},"encoding":{
"x":{"field":"x","type":"quantitative"},"y":{"datum":52.42,"type":"quantitative"},"text":{"field":"t"}}},
{"data":{"name":"cells"},"mark":{"type":"point","shape":"diamond","filled":true,"size":5027,"opacity":1,"stroke":"white","strokeWidth":1.5},"encoding":{
"x":{"field":"m","type":"quantitative"},"y":{"field":"d","type":"quantitative"},
"fill":{"field":"v","type":"quantitative","scale":{"domain":[0,0.51,1],"range":["#FFFFFF","#F2EA4D","#FF0000"],"interpolate":"rgb"},
"legend":{"orient":"none","legendX":2660,"legendY":2538,"direction":"horizontal","title":"D' Color Key","titleFont":"Liberation Sans","titleFontSize":86,"titleFontWeight":"normal","titleColor":"black","titleAnchor":"middle","titlePadding":68,"titleLimit":1200,"gradientLength":1173,"gradientThickness":91,"gradientStrokeColor":"black","gradientStrokeWidth":3,"values":[0,1],"labelExpr":"''","labelFontSize":10}}}},
{"data":{"name":"blocks"},"mark":{"type":"line","color":"black","strokeWidth":4,"strokeJoin":"miter"},"encoding":{
"x":{"field":"x","type":"quantitative"},"y":{"field":"y","type":"quantitative"},"detail":{"field":"b"},"order":{"field":"o","type":"ordinal"}}}
]}
